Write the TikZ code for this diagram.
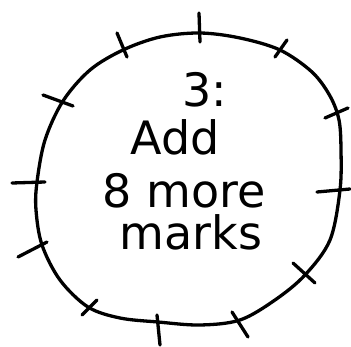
\documentclass[tikz,border=0pt]{standalone}
\usepackage{fontspec}
\setmainfont{DejaVu Sans}
\usetikzlibrary{positioning}
\tikzset{
  pen/.style  = {line width=3.3pt, line cap=round, line join=round},
  hand/.style = {font=\fontsize{46}{50}\selectfont, inner sep=0pt, anchor=base}
}

\begin{document}
\begin{tikzpicture}[x=1pt, y=-1pt]
\useasboundingbox (0,0) rectangle (351,347);

% wobbly ring
\draw[pen] plot[smooth cycle, tension=0.55] coordinates {
  (200,33) (240,38) (280,50) (312,72) (330,96) (339,120) (341,150)
  (340,190) (330,240) (305,275) (275,300) (240,320) (200,325)
  (158,322) (120,318) (88,307) (60,280) (42,245) (36,210) (37,182)
  (45,140) (63,101) (90,70) (123,50) (160,37)};

% marks across the ring
\foreach \xa/\ya/\xb/\yb in {
  199/13/200/42, 117/33/127/57, 43/95/73/106, 12/183/45/182,
  18/257/47/242, 82/315/97/300, 157/315/160/345, 232/312/248/337,
  293/263/315/283, 317/192/350/189, 325/118/348/108, 275/57/287/40}
  \draw[pen] (\xa,\ya) -- (\xb,\yb);

% text, placed on baselines
\node[hand] (step) at (205,107) {3:};
\node[hand] (add) at (175,155) {Add};
\node[hand] (more) at (184,208) {8 more};
\node[hand] (marks) at (191,250) {marks};
\end{tikzpicture}
\end{document}
